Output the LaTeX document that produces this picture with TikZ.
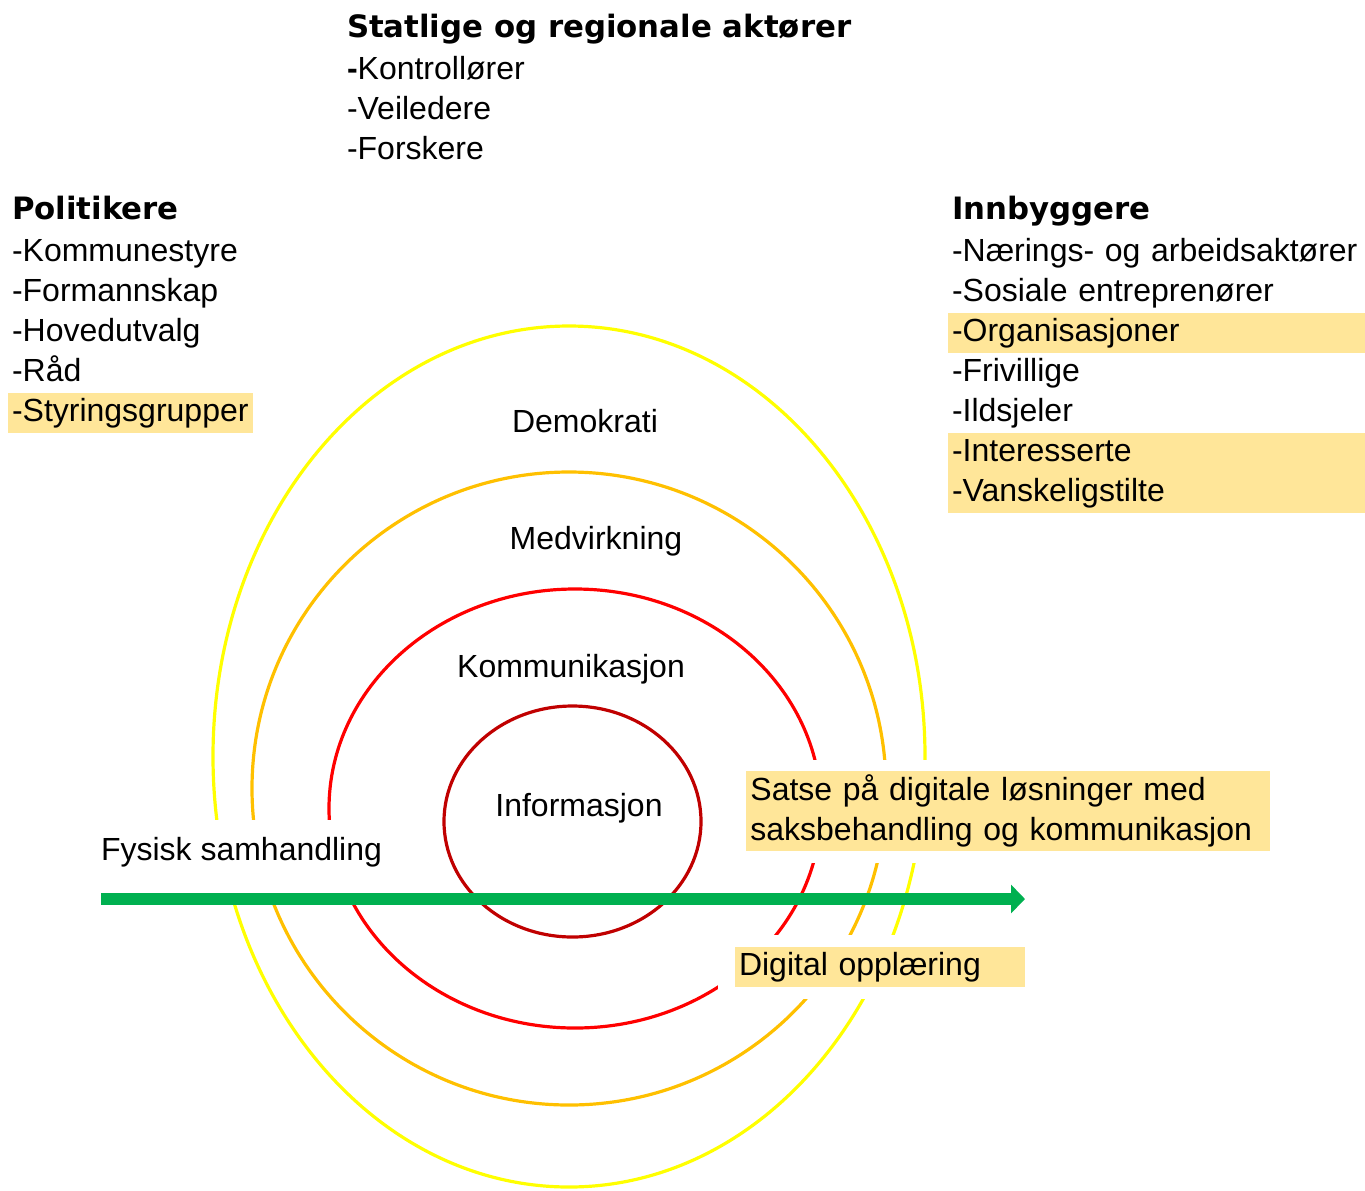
\documentclass[tikz,border=0pt]{standalone}
\usepackage{fontspec}
\setmainfont{Liberation Sans}
\newfontfamily\headfont{DejaVu Sans}
\usetikzlibrary{positioning, arrows.meta}

\definecolor{ringYellow}{RGB}{255,255,0}
\definecolor{ringOrange}{RGB}{255,192,0}
\definecolor{ringRed}{RGB}{255,0,0}
\definecolor{ringDark}{RGB}{192,0,0}
\definecolor{hlYellow}{RGB}{255,230,153}
\definecolor{arrowGreen}{RGB}{0,176,80}

\begin{document}
\begin{tikzpicture}[x=0.5pt, y=-0.5pt, font=\fontsize{16}{20}\selectfont]

    \tikzstyle{head} = [inner xsep=2pt, inner ysep=0pt, outer sep=0pt, text height=11.5pt, text depth=3.5pt, font=\headfont\bfseries\fontsize{15.4}{18}\selectfont]
    \tikzstyle{item} = [inner xsep=2pt, inner ysep=2pt, outer sep=0pt, text height=12pt, text depth=4pt]
    \tikzstyle{wide} = [text width=204.5pt, align=left]
    \tikzstyle{hl} = [fill=hlYellow]
    \tikzstyle{ring} = [line width=1.6pt]

    \useasboundingbox (0,0) rectangle (1365,1190);

    % Rings
    \draw[ring, ringYellow] (569,756.5) ellipse [x radius=356, y radius=430.5];
    \draw[ring, ringOrange] (569,788.5) ellipse [x radius=317, y radius=316.5];
    \draw[ring, ringRed] (575,808.5) ellipse [x radius=246, y radius=219.5];
    \draw[ring, ringDark] (572.5,821.5) ellipse [x radius=128.5, y radius=115.5];

    % Gaps behind the labels
    \fill[white] (95,820) rectangle (395,893);
    \fill[white] (740,760) rectangle (1275,863);
    \fill[white] (718,935) rectangle (1030,999);

    % Ring labels
    \node[item] (demo) at (585,424) {Demokrati};
    \node[item] (medv) at (596,541) {Medvirkning};
    \node[item] (komm) at (571,669) {Kommunikasjon};
    \node[item] (info) at (579,808) {Informasjon};

    % Statlige og regionale aktører
    \node[head, anchor=west] (stat) at (343,29) {Statlige og regionale aktører};
    \node[item, below=3.5pt of stat.south west, anchor=north west] (statA) {\textbf{-}Kontrollører};
    \node[item, below=0pt of statA.south west, anchor=north west] (statB) {-Veiledere};
    \node[item, below=0pt of statB.south west, anchor=north west] (statC) {-Forskere};

    % Politikere
    \node[head, anchor=west] (pol) at (8,211) {Politikere};
    \node[item, below=3.5pt of pol.south west, anchor=north west] (polA) {-Kommunestyre};
    \node[item, below=0pt of polA.south west, anchor=north west] (polB) {-Formannskap};
    \node[item, below=0pt of polB.south west, anchor=north west] (polC) {-Hovedutvalg};
    \node[item, below=0pt of polC.south west, anchor=north west] (polD) {-Råd};
    \node[item, hl, below=0pt of polD.south west, anchor=north west] (polE) {-Styringsgrupper};

    % Innbyggere
    \node[head, anchor=west] (inn) at (948,211) {Innbyggere};
    \node[item, wide, below=3.5pt of inn.south west, anchor=north west] (innA) {-Nærings- og arbeidsaktører};
    \node[item, wide, below=0pt of innA.south west, anchor=north west] (innB) {-Sosiale entreprenører};
    \node[item, wide, hl, below=0pt of innB.south west, anchor=north west] (innC) {-Organisasjoner};
    \node[item, wide, below=0pt of innC.south west, anchor=north west] (innD) {-Frivillige};
    \node[item, wide, below=0pt of innD.south west, anchor=north west] (innE) {-Ildsjeler};
    \node[item, wide, hl, below=0pt of innE.south west, anchor=north west] (innF) {-Interesserte};
    \node[item, wide, hl, below=0pt of innF.south west, anchor=north west] (innG) {-Vanskeligstilte};

    % Physical vs digital
    \node[item, anchor=west] (fys) at (97,852) {Fysisk samhandling};
    \node[hl, inner xsep=2pt, inner ysep=0pt, minimum height=40pt, text width=258pt, align=left, anchor=west] (satse) at (746,811) {Satse på digitale løsninger med\\saksbehandling og kommunikasjon};
    \node[item, hl, text width=141pt, align=left, anchor=west] (digi) at (735,967) {Digital opplæring};

    % Arrow
    \coordinate (arrS) at (101,899);
    \coordinate (arrE) at (1025,899);
    \draw[arrowGreen, line width=6pt, -{Triangle[length=7pt, width=14pt]}] (arrS) -- (arrE);

\end{tikzpicture}
\end{document}
